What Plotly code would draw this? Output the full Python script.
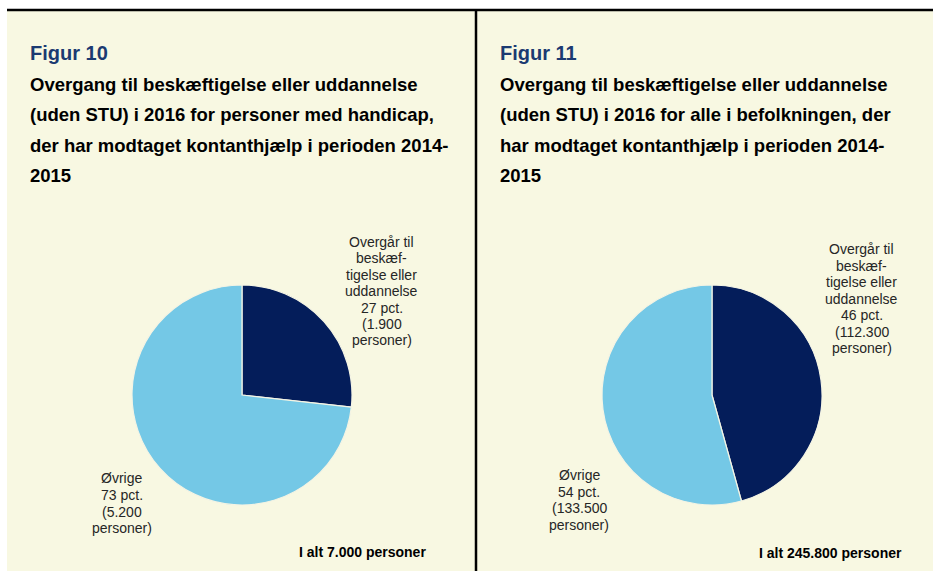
import plotly.graph_objects as go

# ---------------- data ----------------
fig_numbers = ["Figur 10", "Figur 11"]
title_lines_10 = [
    "Overgang til beskæftigelse eller uddannelse",
    "(uden STU) i 2016 for personer med handicap,",
    "der har modtaget kontanthjælp i perioden 2014-",
    "2015",
]
title_lines_11 = [
    "Overgang til beskæftigelse eller uddannelse",
    "(uden STU) i 2016 for alle i befolkningen, der",
    "har modtaget kontanthjælp i perioden 2014-",
    "2015",
]
categories = [["Overgår til", "beskæf-", "tigelse eller", "uddannelse"], ["Øvrige"]]
persons_10 = [1900, 5200]
persons_11 = [112300, 133500]
pct_10 = [27, 73]
pct_11 = [46, 54]
totals = [7000, 245800]
colors = ["#041D5A", "#74C8E6"]

# ---------------- helpers ----------------
W, H = 933, 571
CREAM = "#F8F8E2"
FONT = "Liberation Sans, Arial, sans-serif"


def px(x):
    return x / W


def py(y):
    return 1 - y / H


def fmt(n):
    return f"{n:,}".replace(",", ".")


fig = go.Figure()

# pies
pie_centers = [(242, 395), (712, 395)]
R = 110
for (cx, cy), vals in zip(pie_centers, [persons_10, persons_11]):
    fig.add_trace(go.Pie(
        values=vals,
        labels=[" ".join(c) for c in categories],
        sort=False,
        direction="clockwise",
        rotation=0,
        textinfo="none",
        hoverinfo="label+value",
        marker=dict(colors=colors, line=dict(color="#F4F4E4", width=1.2)),
        domain=dict(x=[px(cx - R), px(cx + R)], y=[py(cy + R), py(cy - R)]),
        showlegend=False,
    ))

annotations = []


def add_text(x, y, text, size, color="#000000", bold=False, xanchor="left"):
    annotations.append(dict(
        x=px(x), y=py(y), xref="paper", yref="paper", text=text, showarrow=False,
        xanchor=xanchor, yanchor="middle", borderpad=0,
        font=dict(family=FONT, size=size, color=color, weight="bold" if bold else "normal"),
    ))


# titles
for x0, num, lines in [(29, fig_numbers[0], title_lines_10), (499, fig_numbers[1], title_lines_11)]:
    add_text(x0, 53, num, 20, color="#1B3A71", bold=True)
    for i, ln in enumerate(lines):
        add_text(x0, 84.5 + i * 30.3, ln, 18.5, bold=True)


# slice labels
def label_lines(cat, pct, n):
    return cat + [f"{pct} pct.", f"({fmt(n)}", "personer)"]


LABEL_COLOR = "#262626"
slice_label_pos = [
    # (pie index, slice index, center x, first line y, spacing)
    (0, 0, 381.5, 242.0, 16.4),
    (0, 1, 121.5, 478.3, 16.7),
    (1, 0, 861.7, 249.3, 16.5),
    (1, 1, 579.0, 475.0, 16.7),
]
for p, s, cx, y0, dy in slice_label_pos:
    pers = [persons_10, persons_11][p]
    pcts = [pct_10, pct_11][p]
    for i, ln in enumerate(label_lines(categories[s], pcts[s], pers[s])):
        add_text(cx, y0 + i * dy, ln, 14, color=LABEL_COLOR, xanchor="center")

# totals
add_text(427, 552, f"I alt {fmt(totals[0])} personer", 14, bold=True, xanchor="right")
add_text(902.5, 553, f"I alt {fmt(totals[1])} personer", 14, bold=True, xanchor="right")

shapes = [
    dict(type="rect", xref="paper", yref="paper", x0=px(7), x1=px(933), y0=py(571), y1=py(10),
         fillcolor=CREAM, line=dict(width=0), layer="below"),
    dict(type="line", xref="paper", yref="paper", x0=px(7), x1=px(933), y0=py(10), y1=py(10),
         line=dict(color="#000000", width=2.5), layer="below"),
    dict(type="line", xref="paper", yref="paper", x0=px(476), x1=px(476), y0=py(10), y1=py(571),
         line=dict(color="#000000", width=2.5), layer="below"),
]

fig.update_layout(
    width=W, height=H,
    margin=dict(l=0, r=0, t=0, b=0),
    paper_bgcolor="#FFFFFF",
    plot_bgcolor="#FFFFFF",
    annotations=annotations,
    shapes=shapes,
    showlegend=False,
)

fig.write_html(
    "out.html",
    config={"displayModeBar": False},
    post_script="document.body.style.margin='0';document.body.style.padding='0';"
                "document.body.style.overflow='hidden';",
)
